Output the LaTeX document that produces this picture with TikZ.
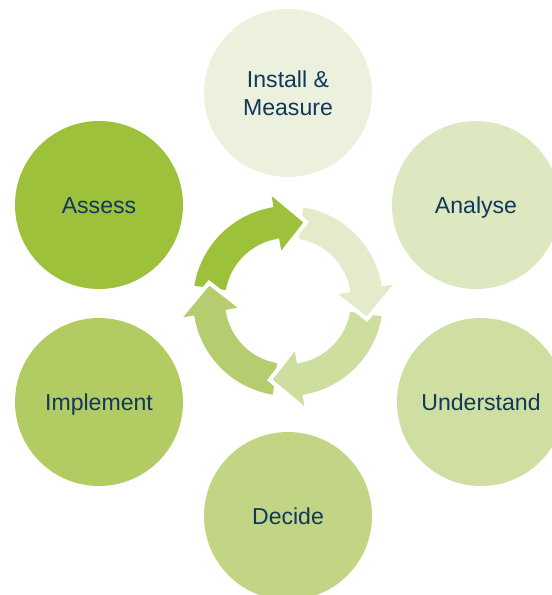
\documentclass[tikz,border=0pt]{standalone}
\usepackage{fontspec}
\setmainfont{Liberation Sans}
\definecolor{cAssess}{HTML}{9DC13B}
\definecolor{cImplement}{HTML}{B3CB63}
\definecolor{cDecide}{HTML}{C1D585}
\definecolor{cUnderstand}{HTML}{CFDEA1}
\definecolor{cAnalyse}{HTML}{DDE7C0}
\definecolor{cInstall}{HTML}{EBF1DC}
\definecolor{aTop}{HTML}{9DC13B}
\definecolor{aRight}{HTML}{E4EBCA}
\definecolor{aBottom}{HTML}{CEDE9F}
\definecolor{aLeft}{HTML}{B5CD6E}
\definecolor{navy}{HTML}{10375C}
\newcommand{\cyclearrow}[3]{%
  \filldraw[ringarrow, fill=#3, shift={(288,294)}]
    ({#1+5}:97) arc[start angle={#1+5}, end angle={#2+23}, radius=97]
    -- ({#2+23}:112) -- (#2:81) -- ({#2+23}:46) -- ({#2+23}:61)
    arc[start angle={#2+23}, end angle={#1+5}, radius=61] -- cycle;}
\begin{document}
\begin{tikzpicture}[x=0.75pt,y=0.75pt,
  stage/.style={circle, minimum size=126pt, inner sep=0pt, text=navy,
    font=\fontsize{17.3}{21}\selectfont, align=center},
  oneline/.style={text height=12.4pt, text depth=0pt},
  ringarrow/.style={draw=white, line width=3pt, line join=miter}]
\useasboundingbox (0,0) rectangle (552,595);
\node[stage, fill=cInstall] (install) at (288,502) {Install \&\\Measure};
\node[stage, oneline, fill=cAnalyse] (analyse) at (476,390) {Analyse};
\node[stage, oneline, fill=cUnderstand] (understand) at (481,193) {Understand};
\node[stage, oneline, fill=cDecide] (decide) at (288,79) {Decide};
\node[stage, oneline, fill=cImplement] (implement) at (99,193) {Implement};
\node[stage, oneline, fill=cAssess] (assess) at (99,390) {Assess};
\cyclearrow{257}{167}{aLeft}
\cyclearrow{-13}{-103}{aBottom}
\cyclearrow{77}{-13}{aRight}
\cyclearrow{167}{77}{aTop}
\begin{scope}
  \clip (288,294) -- ++(157:150) arc[start angle=157, end angle=200, radius=150] -- cycle;
  \cyclearrow{257}{167}{aLeft}
\end{scope}
\end{tikzpicture}
\end{document}
